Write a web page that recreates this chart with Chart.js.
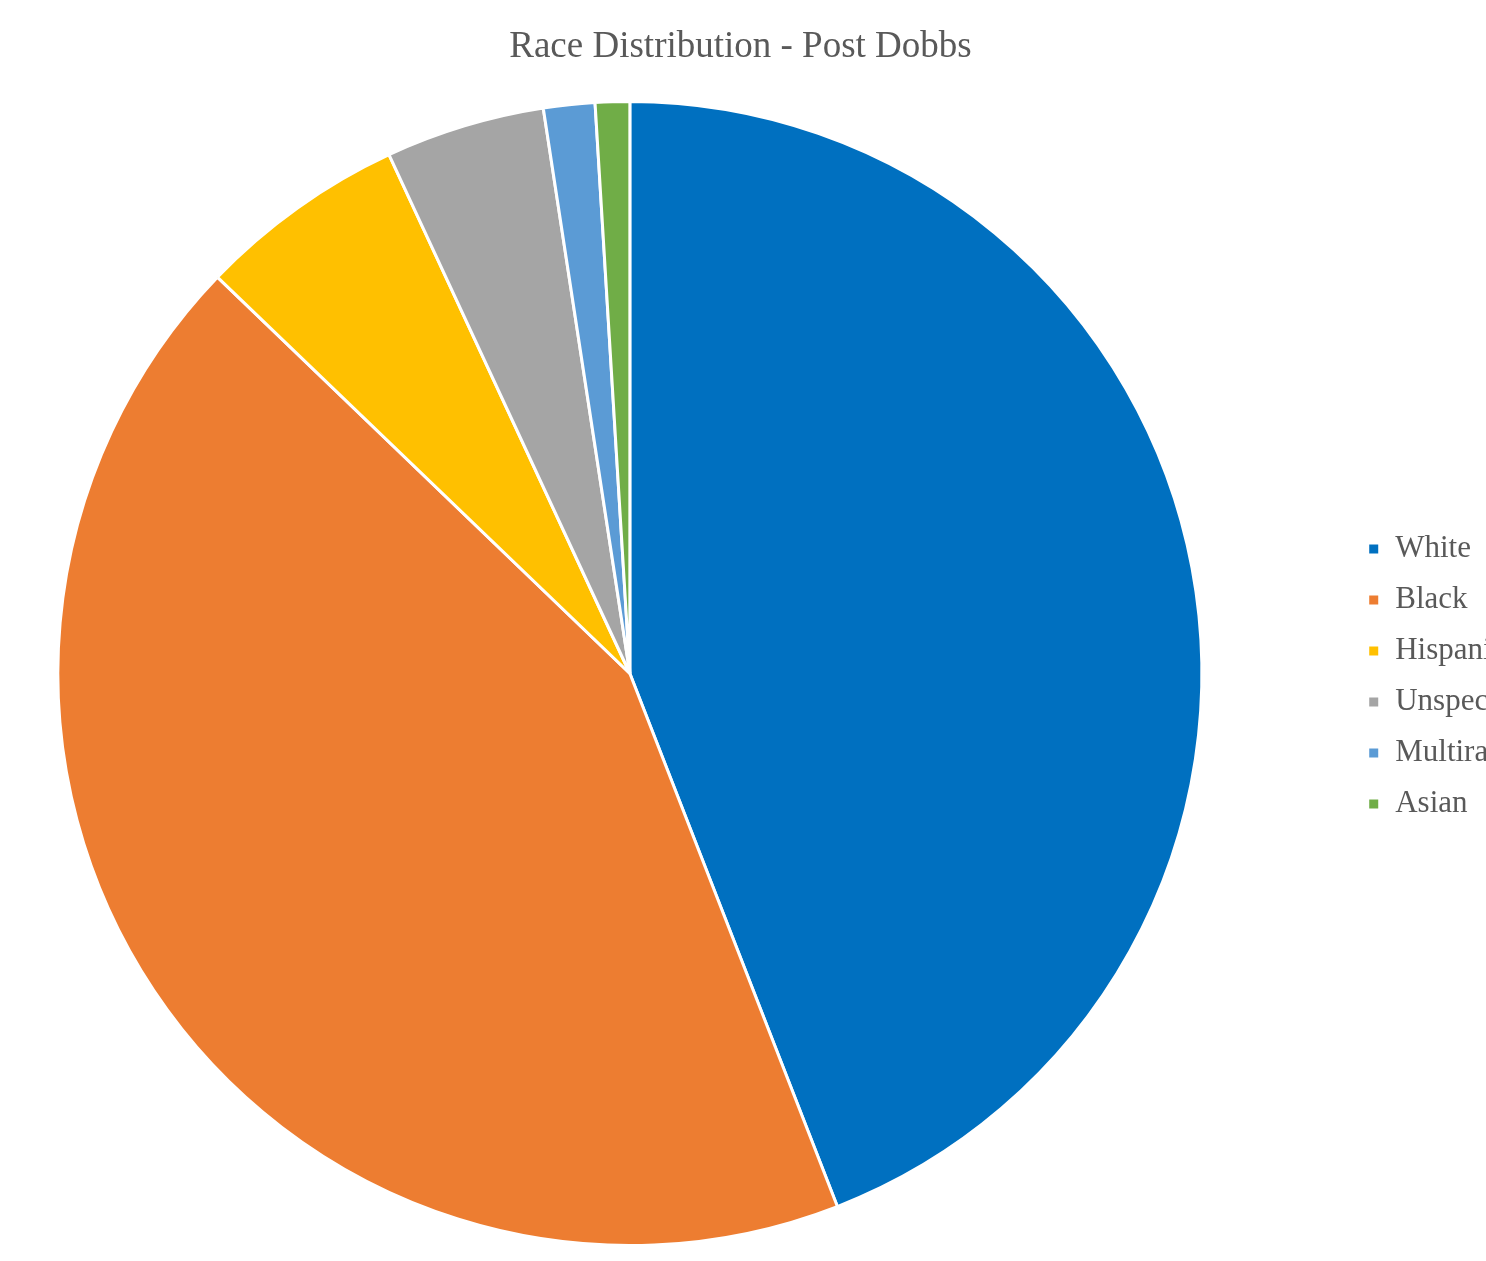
<!DOCTYPE html>
<html lang="en">
  <head>
    <meta charset="UTF-8" />
    <title>Race Distribution - Post Dobbs</title>
    <style>
      * {
        margin: 0;
        padding: 0;
        box-sizing: border-box;
      }
      body {
        background: #fff;
        overflow: hidden;
      }
      .chartBox {
        position: relative;
        width: 1486px;
        height: 1261px;
        overflow: hidden;
      }
      /* the chart is wider than the window, so the legend text gets clipped like in the original */
      #myChart {
        position: absolute;
        left: -88px;
        top: 0;
      }
    </style>
  </head>
  <body>
    <div class="chartBox">
      <canvas id="myChart" width="1643" height="1261"></canvas>
    </div>

    <script src="https://cdn.jsdelivr.net/npm/chart.js"></script>

    <script>
      const categories = ["White", "Black", "Hispanic", "Unspecified", "Multiracial", "Asian"];
      const shares = [44.1, 43.1, 5.9, 4.5, 1.45, 0.97];
      const colors = ["#0070C0", "#ED7D31", "#FFC000", "#A5A5A5", "#5B9BD5", "#70AD47"];

      const serif = "'Liberation Serif', 'Times New Roman', serif";

      // small nudges: title centred over pie + legend, legend sits a bit lower in the original
      const nudge = {
        id: "nudge",
        afterLayout(chart) {
          if (chart.titleBlock) {
            chart.titleBlock.left += 7;
            chart.titleBlock.right += 7;
          }
          if (chart.legend) {
            chart.legend.top += 53;
            chart.legend.bottom += 53;
          }
        },
      };

      const ctx = document.getElementById("myChart");

      const myChart = new Chart(ctx, {
        type: "pie",
        data: {
          labels: categories,
          datasets: [
            {
              data: shares,
              backgroundColor: colors,
              borderColor: "#ffffff",
              borderWidth: 3,
              hoverOffset: 0,
            },
          ],
        },
        options: {
          responsive: false,
          animation: false,
          layout: {
            padding: { left: 0, top: 0, right: 0, bottom: 14 },
          },
          plugins: {
            title: {
              display: true,
              text: "Race Distribution - Post Dobbs",
              color: "#595959",
              font: { family: serif, size: 37, weight: "normal" },
              padding: { top: 25, bottom: 30.6 },
            },
            legend: {
              position: "right",
              labels: {
                color: "#595959",
                font: { family: serif, size: 31 },
                boxWidth: 12,
                boxHeight: 12,
                padding: 20,
              },
            },
            tooltip: { enabled: false },
          },
        },
        plugins: [nudge],
      });
    </script>
  </body>
</html>
